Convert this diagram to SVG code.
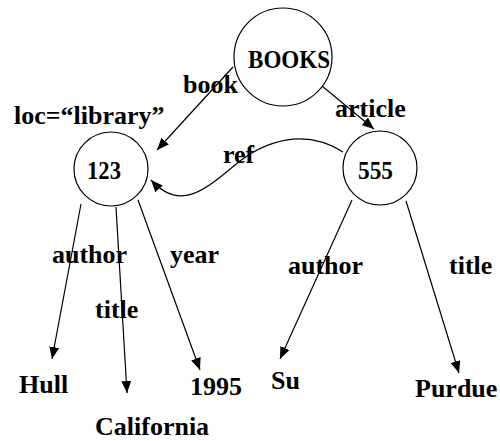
<svg xmlns="http://www.w3.org/2000/svg" width="500" height="441" viewBox="0 0 500 441">
<style>
text{font-family:"Liberation Serif","Times New Roman",serif;font-weight:bold;font-size:26px;fill:#000}
.n{fill:#fff;stroke:#000;stroke-width:1.2}
.e{fill:none;stroke:#000;stroke-width:1.2;marker-end:url(#ah)}
</style>
<defs>
<marker id="ah" markerWidth="12" markerHeight="10" refX="12" refY="5" orient="auto" markerUnits="userSpaceOnUse">
<path d="M0,0 L12,5 L0,10 z" fill="#000"/>
</marker>
</defs>
<rect width="500" height="441" fill="#fff"/>
<g id="connectors">
<path class="e" d="M233,67 L157,150"/>
<path class="e" d="M322,86 L374,129"/>
<path class="e" d="M343,152 C305,128 265,140 235,165 C205,190 180,212 151,180"/>
<path class="e" d="M81,204 L52,359"/>
<path class="e" d="M116,207 L127,393"/>
<path class="e" d="M138,200 L200,370"/>
<path class="e" d="M352,200 L280,359"/>
<path class="e" d="M406,201 L459,373"/>
<text x="183" y="93">book</text>
<text x="335" y="117">article</text>
<text x="223" y="163">ref</text>
<text x="52" y="263">author</text>
<text x="170" y="263">year</text>
<text x="95" y="318">title</text>
<text x="288" y="274">author</text>
<text x="449" y="274">title</text>
</g>
<g id="books">
<circle class="n" cx="283" cy="57" r="49"/>
<text x="248" y="68" textLength="82" lengthAdjust="spacingAndGlyphs">BOOKS</text>
</g>
<g id="n123">
<circle class="n" cx="111" cy="169" r="37"/>
<text x="87" y="179" textLength="34" lengthAdjust="spacingAndGlyphs">123</text>
<text x="14" y="124">loc=“library”</text>
</g>
<g id="n555">
<circle class="n" cx="380" cy="168" r="37"/>
<text x="358" y="179" textLength="35" lengthAdjust="spacingAndGlyphs">555</text>
</g>
<g id="hull"><text x="19" y="393">Hull</text></g>
<g id="california"><text x="95" y="435">California</text></g>
<g id="y1995"><text x="190" y="395">1995</text></g>
<g id="su"><text x="271" y="389">Su</text></g>
<g id="purdue"><text x="415" y="397">Purdue</text></g>
</svg>
